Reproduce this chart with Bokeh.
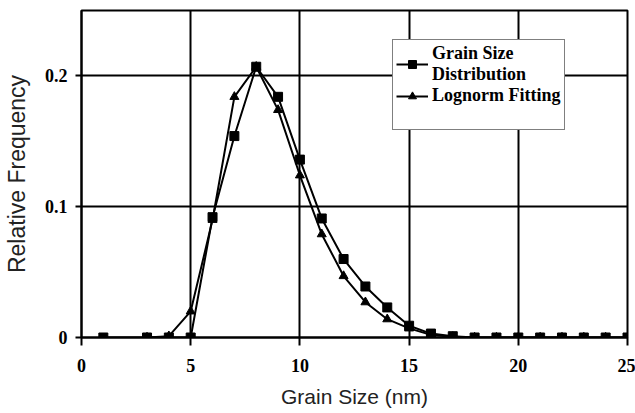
from bokeh.plotting import figure
from bokeh.models import Range1d, Legend, LegendItem, FixedTicker, CustomJSTickFormatter
from bokeh.embed import file_html
from bokeh.resources import INLINE

# Data
grain_x = [1, 3, 4, 5, 6, 7, 8, 9, 10, 11, 12, 13, 14, 15, 16, 17, 18, 19, 20, 21, 22, 23, 24, 25]
grain_y = [0, 0, 0, 0.0, 0.092, 0.154, 0.207, 0.184, 0.136, 0.091, 0.060, 0.039, 0.023, 0.009, 0.003, 0.001,
           0, 0, 0, 0, 0, 0, 0, 0]
fit_x = [3, 4, 5, 6, 7, 8, 9, 10, 11, 12, 13, 14, 15, 16, 17, 18, 19, 20, 21, 22, 23, 24, 25]
fit_y = [0, 0.001, 0.020, 0.090, 0.184, 0.207, 0.174, 0.124, 0.079, 0.047, 0.027, 0.014, 0.007, 0.002, 0.0005,
         0, 0, 0, 0, 0, 0, 0, 0]
x_ticks = [0, 5, 10, 15, 20, 25]
y_ticks = [0, 0.1, 0.2]

SERIF = "Liberation Serif"
SANS = "Liberation Sans"

p = figure(width=635, height=413, output_backend="svg", toolbar_location=None,
           x_range=Range1d(0, 25), y_range=Range1d(0, 0.25),
           min_border_left=80, min_border_right=8, min_border_top=10, min_border_bottom=76)
p.background_fill_color = "white"
p.border_fill_color = "white"
p.outline_line_color = "black"
p.outline_line_width = 2

for ax in (p.xaxis[0], p.yaxis[0]):
    ax.axis_line_color = "black"
    ax.axis_line_width = 2
    ax.major_tick_line_color = "black"
    ax.major_tick_line_width = 2
    ax.minor_tick_line_color = None
    ax.major_tick_in = 0
    ax.major_label_text_font = SERIF
    ax.major_label_text_font_style = "bold"
    ax.major_label_text_font_size = "18px"
    ax.major_label_text_color = "black"
    ax.axis_label_text_font = SANS
    ax.axis_label_text_font_style = "normal"
    ax.axis_label_text_color = "#222222"

p.xaxis.ticker = FixedTicker(ticks=x_ticks)
p.yaxis.ticker = FixedTicker(ticks=y_ticks)
p.yaxis.formatter = CustomJSTickFormatter(code="return tick == 0 ? '0' : tick.toFixed(1);")
p.xaxis.major_tick_out = 8
p.yaxis.major_tick_out = 6
p.xaxis.major_label_standoff = 13
p.yaxis.major_label_standoff = 8
p.xaxis.axis_label = "Grain Size (nm)"
p.yaxis.axis_label = "Relative Frequency"
p.xaxis.axis_label_text_font_size = "21px"
p.yaxis.axis_label_text_font_size = "23px"
p.xaxis.axis_label_standoff = 10
p.yaxis.axis_label_standoff = 12

p.xgrid.grid_line_color = "black"
p.ygrid.grid_line_color = "black"
p.xgrid.grid_line_width = 2
p.ygrid.grid_line_width = 2
p.xgrid.ticker = FixedTicker(ticks=x_ticks)
p.ygrid.ticker = FixedTicker(ticks=y_ticks)

l1 = p.line(grain_x, grain_y, line_color="black", line_width=2)
m1 = p.scatter(grain_x, grain_y, marker="square", size=9, fill_color="black", line_color="black")
l2 = p.line(fit_x, fit_y, line_color="black", line_width=2)
m2 = p.scatter(fit_x, fit_y, marker="triangle", size=9, fill_color="black", line_color="black")
blank = p.line([], [], line_alpha=0)

legend = Legend(items=[LegendItem(label="Grain Size\nDistribution", renderers=[l1, m1]),
                       LegendItem(label="Lognorm Fitting", renderers=[l2, m2]),
                       LegendItem(label=" ", renderers=[blank])],
                location=(311, 207))
legend.label_text_font = SERIF
legend.label_text_font_style = "bold"
legend.label_text_font_size = "18px"
legend.label_text_color = "black"
legend.border_line_color = "black"
legend.border_line_width = 1
legend.background_fill_color = "white"
legend.background_fill_alpha = 1
legend.padding = 3
legend.spacing = 0
legend.glyph_width = 32
legend.label_standoff = 4
legend.margin = 0
p.add_layout(legend)

open("out.html", "w").write(file_html(p, INLINE))
